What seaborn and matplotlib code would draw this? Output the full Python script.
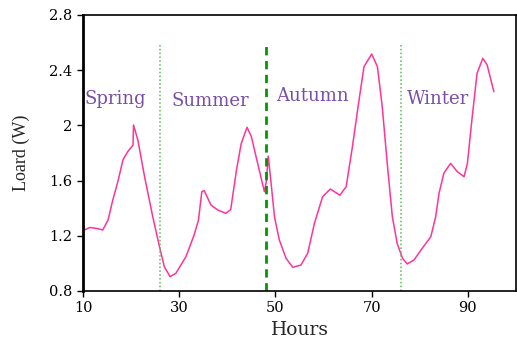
import matplotlib
matplotlib.use("Agg")
import matplotlib.pyplot as plt
import seaborn as sns
import pandas as pd

hours = [10.0, 11.4, 12.8, 14.1, 15.2, 16.2, 17.3, 18.3, 19.3, 20.4, 20.5, 21.4, 22.8, 24.5,
         25.9, 26.9, 28.1, 29.3, 31.4, 33.1, 34.0, 34.7, 35.2, 36.6, 38.0, 39.7, 40.7,
         41.9, 42.9, 44.1, 45.0, 46.3, 47.7, 48.1, 48.5, 49.1, 49.8, 50.8, 52.2, 53.6,
         55.3, 56.7, 58.1, 59.8, 61.4, 63.4, 64.7, 66.0, 67.4, 68.4, 70.0, 71.2, 72.2,
         73.3, 74.3, 75.3, 76.4, 77.4, 78.8, 80.5, 82.3, 83.3, 84.0, 85.0, 86.4, 87.8,
         89.2, 89.9, 90.9, 91.9, 93.1, 94.0, 95.4]
load = [1.237, 1.26, 1.254, 1.242, 1.314, 1.46, 1.60, 1.75, 1.81, 1.858, 2.003, 1.894, 1.628, 1.338,
        1.12, 0.976, 0.904, 0.928, 1.049, 1.206, 1.314, 1.52, 1.527, 1.423, 1.387, 1.363, 1.39,
        1.677, 1.87, 1.986, 1.918, 1.725, 1.52, 1.592, 1.778, 1.58, 1.338, 1.17, 1.037, 0.972,
        0.988, 1.073, 1.29, 1.483, 1.539, 1.494, 1.556, 1.846, 2.19, 2.425, 2.517, 2.425, 2.135,
        1.70, 1.338, 1.146, 1.037, 0.996, 1.025, 1.109, 1.194, 1.338, 1.508, 1.653, 1.725, 1.665,
        1.628, 1.725, 2.063, 2.377, 2.486, 2.438, 2.244]

season_names = ["Spring", "Summer", "Autumn", "Winter"]
season_x = [10.4, 28.4, 50.2, 77.4]
season_y = [2.19, 2.18, 2.21, 2.19]
dotted_bounds = [26, 76]
dashed_bound = [48]
xticks = [10, 30, 50, 70, 90]
yticks = [0.8, 1.2, 1.6, 2.0, 2.4, 2.8]
ytick_labels = ["0.8", "1.2", "1.6", "2", "2.4", "2.8"]

sns.set_theme(style="white")
plt.rcParams["font.family"] = ["DejaVu Serif"]

df = pd.DataFrame({"Hours": hours, "Load": load})
fig = plt.figure(figsize=(5.17, 3.43), dpi=100)
ax = fig.add_axes([83/517, 1 - 291/343, (516 - 83)/517, (291 - 15)/343])

sns.lineplot(data=df, x="Hours", y="Load", ax=ax, color="#ff3399", linewidth=1.1)

for b in dotted_bounds:
    ax.plot([b, b], [0.8, 2.58], color="#55bb55", linestyle=(0, (1, 1.5)), linewidth=1.1)
for b in dashed_bound:
    ax.plot([b, b], [0.8, 2.6], color="#009900", linestyle=(0, (3, 2)), linewidth=2.0)

for name, x, y in zip(season_names, season_x, season_y):
    ax.text(x, y, name, color="#7a4ea8", fontsize=13, ha="left", va="center")

ax.set_xlim(10, 100)
ax.set_ylim(0.8, 2.8)
ax.set_xticks(xticks)
ax.set_yticks(yticks)
ax.set_yticklabels(ytick_labels)
ax.tick_params(axis="both", direction="out", length=4, width=1, labelsize=10.5, colors="black", bottom=True, left=True)
for s in ax.spines.values():
    s.set_color("black")
    s.set_linewidth(1.2)
ax.spines["left"].set_linewidth(2)
ax.set_xlabel("Hours", fontsize=13.5)
ax.set_ylabel("Loard (W)", fontsize=13, family="Liberation Serif", labelpad=14)

fig.savefig("out.png", dpi=100)
